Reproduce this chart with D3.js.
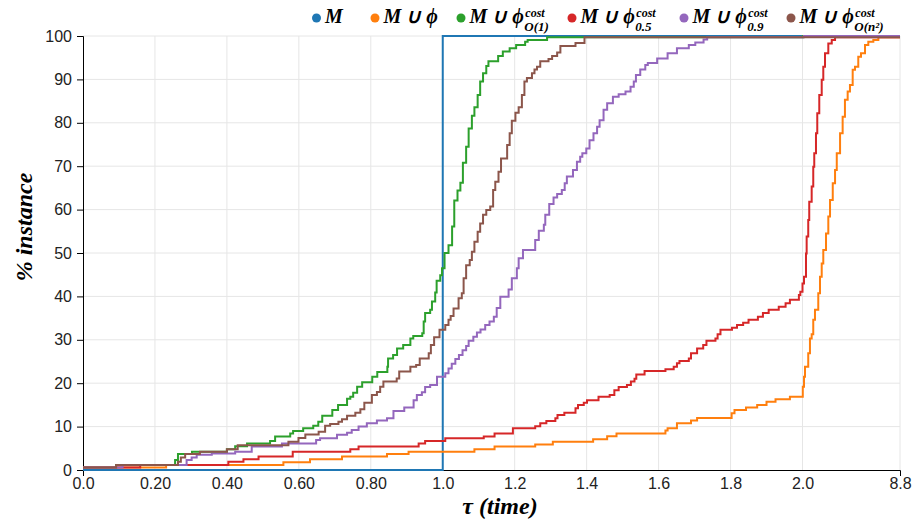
<!DOCTYPE html>
<html><head><meta charset="utf-8">
<script src="https://cdn.jsdelivr.net/npm/d3@7"></script>
<style>body{margin:0;background:#fff}svg{display:block}</style>
</head><body>
<svg id="chart" width="915" height="523"></svg>
<script>
// ---------- data ----------
const xTickValues = [0, 0.2, 0.4, 0.6, 0.8, 1.0, 1.2, 1.4, 1.6, 1.8, 2.0, 8.8];
const xTickLabels = ["0.0", "0.20", "0.40", "0.60", "0.80", "1.0", "1.2", "1.4", "1.6", "1.8", "2.0", "8.8"];
const yTickValues = [0, 10, 20, 30, 40, 50, 60, 70, 80, 90, 100];
const xTitle = "τ (time)";
const yTitle = "% instance";

// legend: main text, superscript, subscript
const legendMain = ["M", "M ∪ ϕ", "M ∪ ϕ", "M ∪ ϕ", "M ∪ ϕ", "M ∪ ϕ"];
const legendSup  = ["", "", "cost", "cost", "cost", "cost"];
const legendSub  = ["", "", "O(1)", "0.5", "0.9", "O(n²)"];

// series: [tau, % instance]  (step-after)
const serM = [[0,0],[1.0,100],[8.8,100]];

const serPhi = [[0,0.6],[0.231,1.15],[0.557,1.8],[0.631,2.5],[0.720,3.1],[0.845,3.7],[0.905,4.2],[1.088,4.8],[1.144,5.4],[1.257,5.9],[1.306,6.5],[1.418,7.1],[1.457,7.8],[1.483,8.4],[1.619,9.1],[1.625,9.6],[1.651,10.8],[1.690,11.4],[1.707,12.0],[1.803,13.1],[1.811,13.8],[1.843,14.4],[1.874,15.0],[1.900,15.7],[1.925,16.3],[1.965,16.9],[2.02,19.2],[2.105,21.5],[2.174,23.8],[2.40,26.9],[2.52,30.3],[2.64,31.3],[2.75,34.6],[2.87,36.9],[3.10,40.7],[3.22,44.5],[3.34,47.6],[3.45,50.7],[3.64,54.5],[3.80,58.4],[3.92,62.2],[4.11,66.1],[4.27,69.1],[4.39,73.0],[4.62,77.6],[4.80,81.4],[4.96,85.3],[5.15,87.2],[5.31,88.7],[5.50,92.2],[5.66,92.9],[5.89,95.2],[6.08,96.0],[6.36,97.9],[6.59,98.7],[6.94,99.1],[7.29,99.7],[8.8,99.7]];

const serO1 = [[0,0.6],[0.092,1.15],[0.256,2.3],[0.264,3.7],[0.303,4.2],[0.40,4.8],[0.423,5.5],[0.456,6.1],[0.52,6.7],[0.534,7.7],[0.576,8.4],[0.584,9.0],[0.612,9.6],[0.64,10.2],[0.654,11.1],[0.665,12.5],[0.693,13.8],[0.709,15.0],[0.734,16.4],[0.743,16.9],[0.751,17.8],[0.762,19.2],[0.776,20.2],[0.804,21.5],[0.818,22.6],[0.846,23.8],[0.848,25.7],[0.862,26.5],[0.873,28.0],[0.89,28.8],[0.91,30.3],[0.918,30.9],[0.943,31.5],[0.947,34.2],[0.951,36.2],[0.965,36.9],[0.970,38.8],[0.979,40.9],[0.983,43.6],[0.993,44.9],[0.998,46.5],[1.005,50.0],[1.016,51.8],[1.026,56.1],[1.032,62.1],[1.041,64.4],[1.049,66.2],[1.056,70.8],[1.065,74.5],[1.072,78.7],[1.081,81.6],[1.088,83.6],[1.097,86.4],[1.104,89.5],[1.112,91.4],[1.121,93.1],[1.127,94.2],[1.154,95.4],[1.167,96.4],[1.186,97.2],[1.204,97.9],[1.229,98.7],[1.236,99.1],[1.29,99.7],[2.03,100],[8.8,100]];

const serC05 = [[0,0.6],[0.159,1.15],[0.404,1.9],[0.446,2.5],[0.488,3.1],[0.583,4.2],[0.743,4.8],[0.766,5.4],[0.933,6.1],[0.951,6.7],[1.007,7.3],[1.114,7.7],[1.144,8.4],[1.195,9.6],[1.257,10.1],[1.271,10.8],[1.288,11.3],[1.313,11.9],[1.319,12.7],[1.338,13.2],[1.369,14.2],[1.376,15.0],[1.392,15.5],[1.401,16.1],[1.433,16.9],[1.464,17.3],[1.477,18.4],[1.489,19.1],[1.512,19.6],[1.523,20.4],[1.533,21.0],[1.538,22.0],[1.561,22.8],[1.619,23.2],[1.642,23.8],[1.651,24.6],[1.658,25.1],[1.684,25.7],[1.690,26.9],[1.707,28.0],[1.724,28.8],[1.733,29.8],[1.758,30.3],[1.764,31.3],[1.772,32.3],[1.804,32.8],[1.818,33.4],[1.835,33.9],[1.850,34.6],[1.876,35.3],[1.890,36.2],[1.906,36.9],[1.934,37.6],[1.953,38.4],[1.965,39.2],[1.990,40.3],[1.994,41.1],[2.0,43.0],[2.105,44.5],[2.244,49.9],[2.29,53.8],[2.40,57.6],[2.47,61.8],[2.64,65.3],[2.75,69.9],[2.82,73.0],[2.94,77.6],[3.03,82.2],[3.17,86.4],[3.34,89.9],[3.45,92.9],[3.57,96.0],[3.80,98.3],[4.04,99.1],[4.27,99.7],[8.8,99.7]];

const serC09 = [[0,0.6],[0.11,1.15],[0.288,2.3],[0.302,2.9],[0.316,3.5],[0.358,3.8],[0.423,4.2],[0.469,5.4],[0.553,6.1],[0.648,6.9],[0.659,7.3],[0.706,8.1],[0.734,8.6],[0.747,9.2],[0.766,10.0],[0.789,10.8],[0.817,11.4],[0.845,11.9],[0.863,13.6],[0.893,14.4],[0.919,16.1],[0.928,17.3],[0.942,17.9],[0.951,19.1],[0.965,19.6],[0.984,21.5],[1.007,22.3],[1.016,23.4],[1.025,24.5],[1.035,25.6],[1.045,26.5],[1.055,27.6],[1.065,28.6],[1.072,29.8],[1.085,30.7],[1.095,31.7],[1.105,32.4],[1.118,33.4],[1.13,34.2],[1.142,35.3],[1.15,37.3],[1.16,39.9],[1.183,41.6],[1.192,44.2],[1.206,46.5],[1.211,48.8],[1.223,50.7],[1.257,53.0],[1.267,55.1],[1.281,56.5],[1.285,58.8],[1.296,61.3],[1.308,62.8],[1.318,63.6],[1.331,64.5],[1.339,66.1],[1.345,67.6],[1.362,69.1],[1.373,71.0],[1.382,72.2],[1.388,73.0],[1.399,74.1],[1.408,76.0],[1.419,77.6],[1.429,79.1],[1.436,80.6],[1.447,83.0],[1.457,84.5],[1.473,86.0],[1.489,86.6],[1.508,87.2],[1.522,88.3],[1.531,89.5],[1.537,91.0],[1.549,92.3],[1.563,93.3],[1.570,93.8],[1.596,94.8],[1.625,96.0],[1.651,97.2],[1.684,97.9],[1.702,98.5],[1.725,99.2],[1.735,99.7],[2.1,100],[8.8,100]];

const serOn2 = [[0,0.6],[0.092,1.15],[0.264,1.9],[0.272,2.9],[0.284,3.7],[0.325,4.2],[0.40,4.8],[0.43,5.7],[0.571,6.5],[0.599,7.4],[0.618,8.2],[0.655,8.8],[0.673,10.2],[0.687,10.6],[0.710,11.1],[0.72,11.7],[0.734,12.5],[0.757,13.2],[0.771,14.0],[0.782,15.5],[0.803,17.3],[0.817,18.0],[0.826,19.2],[0.835,20.4],[0.872,21.1],[0.879,22.7],[0.910,23.8],[0.926,24.2],[0.936,25.7],[0.961,26.9],[0.967,28.8],[0.976,30.6],[0.991,32.3],[1.007,33.4],[1.016,34.6],[1.022,35.5],[1.030,37.2],[1.044,39.6],[1.053,40.7],[1.058,44.2],[1.065,47.2],[1.075,48.4],[1.081,50.3],[1.088,52.6],[1.097,54.9],[1.104,56.8],[1.112,58.8],[1.121,59.9],[1.132,60.7],[1.140,64.5],[1.146,66.4],[1.155,68.7],[1.162,71.8],[1.179,74.9],[1.186,77.6],[1.192,80.5],[1.202,82.3],[1.211,83.6],[1.220,86.4],[1.227,89.5],[1.234,90.3],[1.248,91.4],[1.255,92.3],[1.262,92.9],[1.271,94.2],[1.294,94.7],[1.304,95.4],[1.318,96.2],[1.327,97.7],[1.369,98.4],[1.394,99.7],[8.8,99.7]];

const seriesData = [serM, serPhi, serO1, serC05, serC09, serOn2];
const seriesColors = ["#1f77b4", "#ff7f0e", "#2ca02c", "#d62728", "#9467bd", "#8c564b"];

// ---------- layout ----------
const svg = d3.select("#chart");
const L = 83, R = 900, T = 36, B = 470;
const x = d3.scaleLinear().domain([0, 2, 8.8]).range([L, 802.5, R]);
const y = d3.scaleLinear().domain([0, 100]).range([B, T]);

// grid
const grid = svg.append("g");
grid.selectAll("line.v").data(xTickValues.slice(1)).join("line")
  .attr("x1", d => x(d)).attr("x2", d => x(d)).attr("y1", T).attr("y2", B)
  .attr("stroke", "#e6e6e6").attr("stroke-width", 1);
grid.selectAll("line.h").data(yTickValues.slice(1)).join("line")
  .attr("x1", L).attr("x2", R).attr("y1", d => y(d)).attr("y2", d => y(d))
  .attr("stroke", "#e6e6e6").attr("stroke-width", 1);

// axes
const fontAxis = "'Liberation Sans', Arial, sans-serif";
const xAxis = svg.append("g").attr("transform", `translate(0,${B})`)
  .call(d3.axisBottom(x).tickValues(xTickValues).tickFormat((d, i) => xTickLabels[i])
    .tickSizeInner(0).tickSizeOuter(6).tickPadding(8));
const yAxis = svg.append("g").attr("transform", `translate(${L},0)`)
  .call(d3.axisLeft(y).tickValues(yTickValues).tickSize(6).tickPadding(5));
[xAxis, yAxis].forEach(g => {
  g.selectAll("text").attr("font-family", fontAxis).attr("font-size", 16).attr("fill", "#222");
  g.selectAll("path,line").attr("stroke", "#000");
});

// lines
const line = d3.line().curve(d3.curveStepAfter).x(d => x(d[0])).y(d => y(d[1]));
svg.append("g").selectAll("path").data(seriesData).join("path")
  .attr("d", line).attr("fill", "none")
  .attr("stroke", (d, i) => seriesColors[i]).attr("stroke-width", 2);

// titles
const fontMath = "'Liberation Serif', 'Times New Roman', serif";
svg.append("text").attr("x", 500).attr("y", 514).attr("text-anchor", "middle")
  .attr("font-family", fontMath).attr("font-weight", "bold").attr("font-style", "italic")
  .attr("font-size", 24).attr("fill", "#000").text(xTitle);
svg.append("text").attr("transform", "translate(32,227) rotate(-90)").attr("text-anchor", "middle")
  .attr("font-family", fontMath).attr("font-weight", "bold").attr("font-style", "italic")
  .attr("font-size", 24).attr("fill", "#000").text(yTitle);

// legend
const legendX = [316.5, 375, 461, 572, 684, 791];
const lg = svg.append("g");
legendMain.forEach((m, i) => {
  lg.append("circle").attr("cx", legendX[i]).attr("cy", 18).attr("r", 4.5).attr("fill", seriesColors[i]);
  const tx = legendX[i] + 8.5;
  const t = lg.append("text").attr("x", tx).attr("y", 23)
    .attr("font-family", fontMath).attr("font-weight", "bold").attr("font-style", "italic")
    .attr("font-size", 20).attr("fill", "#000").text(m);
  const w = t.node().getComputedTextLength();
  if (legendSup[i]) {
    lg.append("text").attr("x", tx + w + 1.5).attr("y", 17)
      .attr("font-family", fontMath).attr("font-weight", "bold").attr("font-style", "italic")
      .attr("font-size", 12).attr("fill", "#000").text(legendSup[i]);
  }
  if (legendSub[i]) {
    lg.append("text").attr("x", tx + w + 0.5).attr("y", 31)
      .attr("font-family", fontMath).attr("font-weight", "bold").attr("font-style", "italic")
      .attr("font-size", 13).attr("fill", "#000").text(legendSub[i]);
  }
});
</script>
</body></html>
